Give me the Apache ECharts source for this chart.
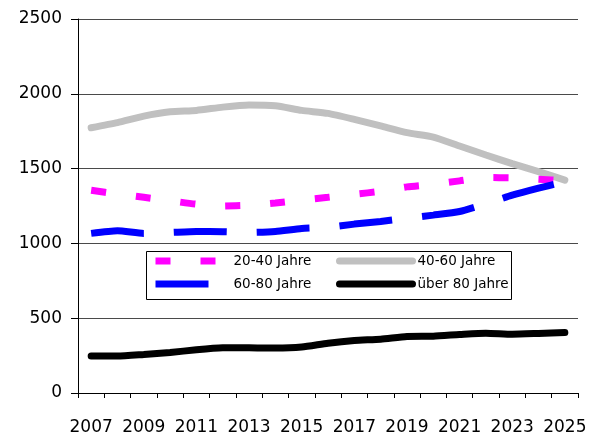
<!DOCTYPE html>
<html>
<head>
<meta charset="utf-8">
<script src="https://cdn.jsdelivr.net/npm/echarts@6/dist/echarts.min.js"></script>
<style>
  html, body { margin: 0; padding: 0; background: #ffffff; }
  #chart { width: 595px; height: 439px; }
</style>
</head>
<body>
<div id="chart"></div>
<script>
// Jahre auf der x-Achse
const years = ['2007', '2008', '2009', '2010', '2011', '2012', '2013', '2014', '2015', '2016',
  '2017', '2018', '2019', '2020', '2021', '2022', '2023', '2024', '2025']

const age20to40 = [1355, 1330, 1308, 1285, 1262, 1250, 1255, 1270, 1290, 1308,
  1328, 1348, 1378, 1395, 1418, 1440, 1438, 1428, 1420]
const age40to60 = [1773, 1807, 1851, 1880, 1889, 1911, 1925, 1920, 1889, 1869,
  1829, 1785, 1740, 1711, 1651, 1591, 1533, 1480, 1423]
const age60to80 = [1067, 1085, 1067, 1073, 1080, 1078, 1073, 1080, 1100, 1108,
  1129, 1147, 1168, 1189, 1213, 1265, 1322, 1369, 1412]
const ageOver80 = [247, 247, 258, 271, 289, 302, 303, 300, 307, 333,
  351, 360, 378, 380, 391, 400, 393, 398, 404]

const seriesNames = ['20-40 Jahre', '40-60 Jahre', '60-80 Jahre', 'über 80 Jahre']

const chart = echarts.init(document.getElementById('chart'))

const legendText = {
  fontFamily: 'DejaVu Sans',
  fontSize: 13.5,
  lineHeight: 14,
  color: '#000'
}

// leeres Symbol, damit die Legende nur die Linie zeigt
const noSymbol = { color: 'rgba(0,0,0,0)', borderWidth: 0, opacity: 0 }

const option = {
  animation: false,
  textStyle: { fontFamily: 'DejaVu Sans' },
  grid: {
    left: 78,
    right: 17,
    top: 19,
    bottom: 46
  },
  xAxis: {
    type: 'category',
    data: years,
    boundaryGap: true,
    axisLine: { lineStyle: { color: '#000', width: 1 } },
    axisTick: { show: true, length: 5, interval: 0, lineStyle: { color: '#000' } },
    axisLabel: {
      interval: 1,
      margin: 26,
      fontSize: 17,
      color: '#000',
      fontFamily: 'DejaVu Sans'
    },
    splitLine: { show: false }
  },
  yAxis: {
    type: 'value',
    min: 0,
    max: 2500,
    interval: 500,
    axisLine: { show: true, lineStyle: { color: '#000', width: 1 } },
    axisTick: { show: true, length: 7, inside: false, lineStyle: { color: '#000' } },
    axisLabel: {
      margin: 16,
      fontSize: 17,
      color: '#000',
      fontFamily: 'DejaVu Sans',
      formatter: (v) => String(v)
    },
    splitLine: { show: true, lineStyle: { color: '#4a4a4a', width: 1 } }
  },
  legend: [
    {
      data: [seriesNames[0], seriesNames[2]],
      orient: 'vertical',
      left: 152,
      top: 254,
      itemWidth: 73,
      itemHeight: 14,
      itemGap: 9,
      padding: 0,
      textStyle: legendText,
      itemStyle: noSymbol,
      lineStyle: { width: 'inherit', type: 'inherit', cap: 'butt' }
    },
    {
      data: [seriesNames[1], seriesNames[3]],
      orient: 'vertical',
      left: 336,
      top: 254,
      itemWidth: 73,
      itemHeight: 14,
      itemGap: 9,
      padding: 0,
      textStyle: legendText,
      itemStyle: noSymbol,
      lineStyle: { width: 'inherit', type: 'inherit', cap: 'round' }
    }
  ],
  graphic: [
    {
      type: 'rect',
      left: 146,
      top: 251,
      shape: { width: 365, height: 48 },
      style: { fill: '#fff', stroke: '#000', lineWidth: 1 },
      z: 0,
      zlevel: 0
    }
  ],
  series: [
    {
      name: seriesNames[0],
      type: 'line',
      data: age20to40,
      symbol: 'none',
      smooth: 0.2,
      lineStyle: { color: '#ff00ff', width: 7, type: [15, 30], cap: 'butt' },
      itemStyle: { color: '#ff00ff' },
      z: 3
    },
    {
      name: seriesNames[1],
      type: 'line',
      data: age40to60,
      symbol: 'none',
      smooth: 0.2,
      lineStyle: { color: '#c0c0c0', width: 7, type: 'solid', cap: 'round' },
      itemStyle: { color: '#c0c0c0' },
      z: 2
    },
    {
      name: seriesNames[2],
      type: 'line',
      data: age60to80,
      symbol: 'none',
      smooth: 0.2,
      lineStyle: { color: '#0000ff', width: 7, type: [53, 30], cap: 'butt' },
      itemStyle: { color: '#0000ff' },
      z: 3
    },
    {
      name: seriesNames[3],
      type: 'line',
      data: ageOver80,
      symbol: 'none',
      smooth: 0.2,
      lineStyle: { color: '#000000', width: 7, type: 'solid', cap: 'round' },
      itemStyle: { color: '#000000' },
      z: 3
    }
  ]
}

chart.setOption(option)
</script>
</body>
</html>
